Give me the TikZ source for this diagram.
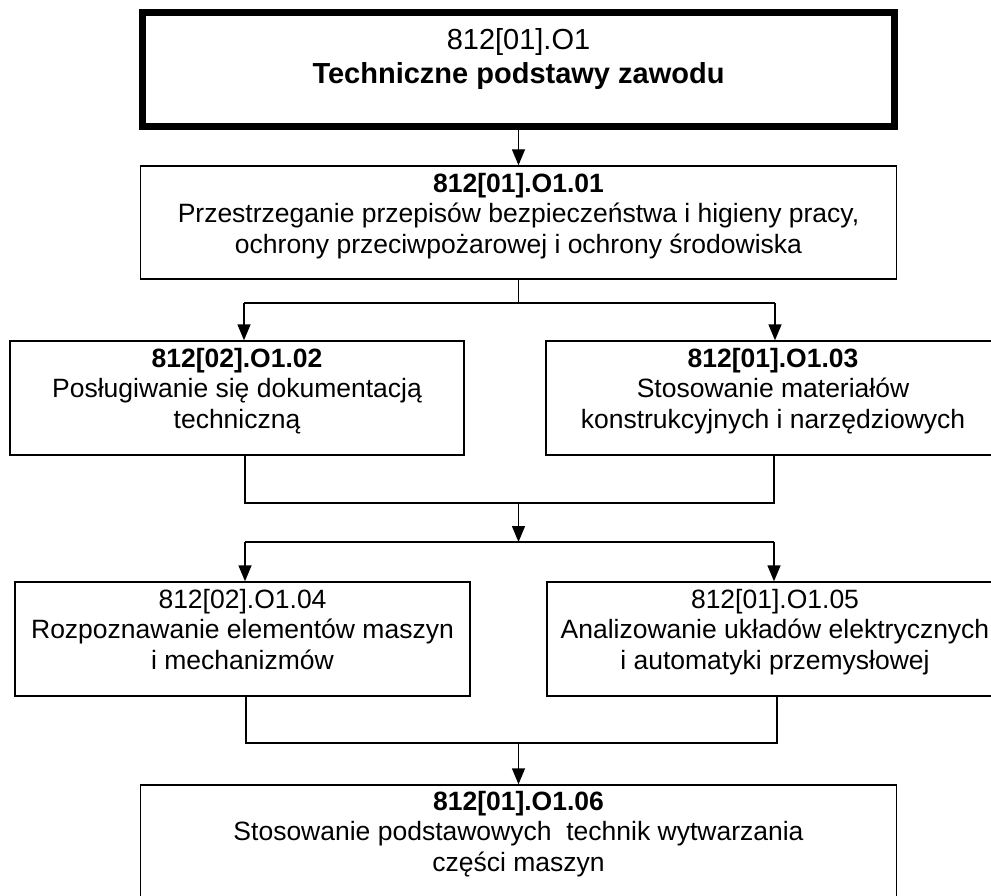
\documentclass[tikz,border=0pt]{standalone}
\usepackage{fontspec}
\setmainfont{Liberation Sans}
\usetikzlibrary{arrows.meta}
\newcommand{\firstln}{\rule{0pt}{20pt}}
\newcommand{\firstlnbig}{\rule{0pt}{22pt}}
\tikzset{
  box/.style={draw=black, line width=1.4pt, rectangle, inner sep=0pt, fill=white},
  topbox/.style={draw=black, line width=6.7pt, rectangle, inner sep=0pt},
  txt/.style={align=center, inner sep=0pt, anchor=north,
    font=\fontsize{26.5}{30.5}\selectfont},
  bigtxt/.style={align=center, inner sep=0pt, anchor=north,
    font=\fontsize{29}{33.5}\selectfont},
  conn/.style={draw=black, line width=1.4pt},
  arr/.style={conn, -{Triangle[width=13pt,length=16pt]}}
}
\begin{document}
\begin{tikzpicture}[x=1pt,y=-1pt]
\useasboundingbox (0,0) rectangle (991,896);
\clip (0,0) rectangle (991,896);
% boxes
\node[topbox, minimum width=752.5pt, minimum height=114pt] (b1) at (518.5,69.5) {};
\node[box, minimum width=756pt, minimum height=113pt] (b2) at (518.5,222.5) {};
\node[box, minimum width=454pt, minimum height=114pt] (b3l) at (237,398) {};
\node[box, minimum width=454pt, minimum height=114pt] (b3r) at (773,398) {};
\node[box, minimum width=455pt, minimum height=114pt] (b4l) at (242.5,639) {};
\node[box, minimum width=456pt, minimum height=114pt] (b4r) at (775,639) {};
\node[box, minimum width=756pt, minimum height=120pt] (b5) at (518.5,845) {};
% texts
\node[bigtxt] (t1) at (518.5,27.5) {\firstlnbig 812[01].O1\\\textbf{Techniczne podstawy zawodu}};
\node[txt] (t2) at (518.5,172) {\firstln\textbf{812[01].O1.01}\\Przestrzeganie przepisów bezpieczeństwa i higieny pracy,\\ochrony przeciwpożarowej i ochrony środowiska};
\node[txt] (t3l) at (237,347) {\firstln\textbf{812[02].O1.02}\\Posługiwanie się dokumentacją\\techniczną};
\node[txt] (t3r) at (773,347) {\firstln\textbf{812[01].O1.03}\\Stosowanie materiałów\\konstrukcyjnych i narzędziowych};
\node[txt] (t4l) at (242.5,588) {\firstln 812[02].O1.04\\Rozpoznawanie elementów maszyn\\i mechanizmów};
\node[txt] (t4r) at (775,588) {\firstln 812[01].O1.05\\Analizowanie układów elektrycznych\\i automatyki przemysłowej};
\node[txt] (t5) at (518.5,790) {\firstln\textbf{812[01].O1.06}\\Stosowanie podstawowych\ \ technik wytwarzania\\części maszyn};
% junction coordinates
\coordinate (j1) at (518.5,303);
\coordinate (j1l) at (244,303);
\coordinate (j1r) at (775,303);
\coordinate (j2l) at (245,503);
\coordinate (j2c) at (518.5,503);
\coordinate (j2r) at (774,503);
\coordinate (j3l) at (245,542);
\coordinate (j3c) at (518.5,542);
\coordinate (j3r) at (774,542);
\coordinate (j4l) at (246,743);
\coordinate (j4c) at (518.5,743);
\coordinate (j4r) at (777,743);
% connectors
\draw[arr] (b1.south) -- (b2.north);
\draw[conn] (b2.south) -- (j1);
\draw[conn] (j1l) -- (j1r);
\draw[arr] (j1l) -- (j1l |- b3l.north);
\draw[arr] (j1r) -- (j1r |- b3r.north);
\draw[conn] (j2l |- b3l.south) -- (j2l) -- (j2r) -- (j2r |- b3r.south);
\draw[arr] (j2c) -- (j3c);
\draw[conn] (j3l) -- (j3r);
\draw[arr] (j3l) -- (j3l |- b4l.north);
\draw[arr] (j3r) -- (j3r |- b4r.north);
\draw[conn] (j4l |- b4l.south) -- (j4l) -- (j4r) -- (j4r |- b4r.south);
\draw[arr] (j4c) -- (b5.north);
\end{tikzpicture}
\end{document}
